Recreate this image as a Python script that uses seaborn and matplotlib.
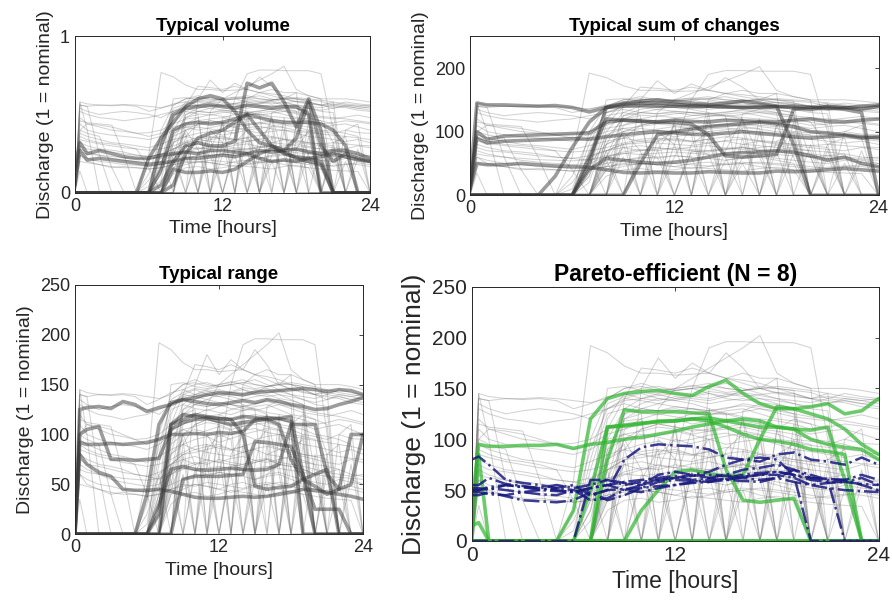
import numpy as np
import pandas as pd
import matplotlib
matplotlib.use("Agg")
import matplotlib.pyplot as plt
import seaborn as sns

# ----------------------------
# DATA (discharge, 1 = nominal)
# ----------------------------
hours = [0, 0.4, 1, 2, 3, 4, 5, 6, 7, 8, 9, 10, 11, 12, 13, 14, 15, 16, 17, 18, 19, 20, 21, 22, 23, 24]

# thin grey runs, non-zero during the night
bg_night = [
    [0, 140, 138, 140, 139, 140, 138, 130, 135, 142, 145, 140, 143, 145, 142, 140, 144, 146, 143, 140, 138, 136, 140, 138, 135, 137],
    [0, 145, 142, 140, 140, 141, 140, 138, 136, 140, 150, 152, 148, 150, 152, 155, 150, 148, 150, 146, 145, 140, 142, 140, 138, 140],
    [0, 130, 125, 120, 118, 115, 118, 120, 125, 130, 135, 130, 128, 132, 130, 128, 131, 133, 130, 126, 122, 120, 118, 121, 124, 120],
    [0, 120, 110, 105, 100, 98, 95, 96, 100, 110, 118, 120, 125, 122, 120, 124, 126, 122, 120, 118, 115, 110, 112, 115, 113, 110],
    [0, 110, 100, 95, 92, 90, 88, 85, 90, 100, 105, 108, 112, 110, 105, 108, 110, 112, 108, 105, 100, 98, 95, 100, 96, 95],
    [0, 95, 90, 85, 80, 78, 75, 72, 78, 85, 90, 95, 98, 92, 96, 100, 95, 98, 100, 95, 90, 88, 85, 82, 85, 80],
    [0, 80, 75, 70, 68, 65, 60, 58, 62, 70, 80, 82, 85, 88, 85, 82, 86, 88, 85, 80, 78, 75, 72, 70, 75, 72],
    [0, 70, 65, 60, 55, 52, 50, 48, 50, 60, 68, 72, 70, 75, 72, 70, 74, 76, 72, 70, 68, 65, 62, 60, 58, 60],
    [0, 60, 55, 50, 48, 45, 44, 42, 45, 50, 55, 58, 60, 62, 60, 58, 55, 60, 62, 58, 55, 52, 50, 55, 52, 50],
    [0, 50, 48, 45, 42, 40, 40, 38, 40, 45, 50, 48, 52, 50, 48, 46, 50, 52, 50, 48, 45, 42, 44, 46, 45, 42],
    [0, 60, 50, 45, 40, 42, 40, 38, 40, 45, 48, 50, 48, 45, 50, 52, 48, 50, 52, 50, 48, 45, 42, 45, 48, 45],
    [0, 75, 70, 68, 65, 62, 60, 58, 55, 60, 65, 70, 75, 72, 70, 68, 72, 75, 70, 68, 65, 60, 62, 65, 60, 58],
    [0, 100, 110, 108, 105, 100, 95, 90, 95, 105, 110, 115, 118, 120, 115, 118, 120, 118, 115, 112, 110, 105, 108, 110, 105, 100],
    [0, 135, 130, 125, 128, 130, 128, 125, 120, 130, 138, 140, 138, 142, 140, 138, 142, 145, 140, 138, 135, 132, 135, 138, 135, 132],
    [0, 145, 100, 0, 0, 0, 0, 0, 0, 60, 120, 130, 135, 132, 130, 128, 130, 135, 132, 130, 0, 0, 0, 0, 0, 0],
    [0, 140, 138, 60, 0, 0, 0, 0, 30, 110, 140, 145, 140, 138, 142, 145, 140, 138, 140, 135, 130, 60, 0, 0, 0, 0],
    [0, 100, 95, 90, 40, 0, 0, 0, 0, 80, 125, 130, 128, 130, 126, 124, 128, 130, 125, 120, 118, 115, 80, 0, 0, 0],
    [0, 90, 85, 80, 78, 75, 70, 40, 0, 0, 90, 110, 115, 112, 110, 108, 112, 115, 110, 108, 105, 100, 98, 95, 90, 0],
    [0, 35, 0, 0, 0, 0, 0, 0, 0, 0, 60, 0, 100, 80, 0, 120, 0, 50, 0, 110, 60, 0, 70, 0, 0, 0],
    [0, 115, 112, 110, 108, 60, 0, 0, 0, 90, 100, 105, 102, 98, 100, 104, 106, 102, 100, 98, 96, 94, 92, 90, 88, 85],
    [0, 85, 82, 78, 75, 72, 70, 68, 70, 75, 82, 88, 90, 86, 84, 88, 92, 90, 86, 84, 80, 78, 80, 78, 76, 75],
    [0, 65, 62, 60, 58, 56, 55, 54, 56, 62, 66, 64, 66, 68, 66, 64, 66, 68, 66, 64, 62, 60, 58, 57, 56, 55],
]

# thin grey runs that only start in the morning
bg_day = [
    [0, 0, 0, 0, 0, 0, 0, 0, 20, 100, 130, 140, 145, 148, 150, 145, 142, 148, 150, 145, 142, 140, 145, 142, 140, 138],
    [0, 0, 0, 0, 0, 0, 0, 0, 40, 120, 145, 150, 152, 148, 150, 152, 150, 148, 152, 150, 148, 146, 140, 145, 142, 140],
    [0, 0, 0, 0, 0, 0, 0, 30, 90, 130, 140, 138, 135, 140, 138, 135, 138, 140, 136, 134, 130, 0, 0, 0, 0, 0],
    [0, 0, 0, 0, 0, 0, 0, 0, 0, 60, 100, 110, 115, 112, 108, 110, 112, 108, 105, 0, 0, 0, 0, 0, 0, 0],
    [0, 0, 0, 0, 0, 0, 0, 0, 50, 80, 90, 85, 88, 90, 85, 88, 0, 80, 85, 82, 80, 78, 75, 0, 0, 0],
    [0, 0, 0, 0, 0, 0, 0, 20, 60, 70, 75, 70, 72, 0, 68, 70, 72, 75, 70, 68, 0, 0, 0, 0, 0, 0],
    [0, 0, 0, 0, 0, 0, 0, 0, 0, 40, 55, 60, 58, 62, 60, 0, 55, 58, 60, 55, 50, 0, 0, 0, 0, 0],
    [0, 0, 0, 0, 0, 0, 0, 0, 100, 140, 150, 155, 150, 148, 150, 152, 155, 150, 145, 140, 135, 130, 128, 0, 0, 0],
    [0, 0, 0, 0, 0, 0, 0, 0, 0, 0, 125, 135, 140, 138, 135, 130, 0, 128, 135, 130, 125, 0, 0, 0, 0, 0],
    [0, 0, 0, 0, 0, 0, 0, 0, 0, 90, 120, 125, 0, 120, 125, 128, 125, 120, 0, 110, 120, 115, 110, 0, 0, 0],
    [0, 0, 0, 0, 0, 0, 0, 0, 0, 70, 80, 85, 82, 80, 78, 82, 85, 80, 78, 75, 72, 70, 0, 0, 0, 0],
    [0, 0, 0, 0, 0, 0, 0, 0, 0, 40, 45, 50, 48, 45, 42, 45, 48, 50, 45, 42, 40, 0, 0, 0, 0, 0],
    [0, 0, 0, 0, 0, 0, 0, 0, 0, 70, 0, 60, 90, 0, 80, 100, 0, 90, 0, 70, 100, 0, 60, 0, 0, 0],
    [0, 0, 0, 0, 0, 0, 0, 0, 60, 0, 80, 0, 70, 110, 0, 90, 60, 0, 100, 0, 0, 80, 0, 50, 0, 0],
    [0, 0, 0, 0, 0, 0, 0, 0, 0, 50, 100, 70, 0, 60, 110, 0, 70, 120, 60, 0, 90, 0, 0, 0, 70, 0],
    [0, 0, 0, 0, 0, 0, 0, 10, 80, 135, 142, 146, 144, 140, 143, 147, 145, 142, 144, 146, 143, 140, 138, 136, 132, 130],
    [0, 0, 0, 0, 0, 0, 0, 0, 70, 125, 130, 126, 124, 128, 130, 126, 124, 127, 130, 128, 125, 122, 120, 118, 115, 112],
    [0, 0, 0, 0, 0, 0, 0, 0, 30, 95, 105, 100, 104, 108, 104, 100, 103, 106, 104, 100, 98, 95, 0, 0, 0, 0],
    [0, 0, 0, 0, 0, 0, 0, 0, 0, 45, 75, 78, 74, 72, 76, 78, 74, 72, 75, 78, 74, 70, 68, 65, 0, 0],
    [0, 0, 0, 0, 0, 0, 0, 0, 0, 30, 40, 42, 38, 40, 44, 42, 40, 38, 42, 44, 40, 38, 36, 35, 34, 0],
    [0, 0, 0, 0, 0, 0, 0, 0, 40, 150, 152, 148, 146, 150, 153, 150, 146, 148, 150, 152, 150, 148, 145, 0, 0, 0],
    [0, 0, 0, 0, 0, 0, 0, 0, 0, 80, 95, 0, 85, 100, 95, 0, 90, 105, 0, 85, 95, 0, 80, 90, 0, 0],
    [0, 0, 0, 0, 0, 0, 0, 0, 0, 0, 110, 120, 0, 115, 0, 130, 125, 0, 120, 0, 115, 0, 0, 100, 110, 0],
    [0, 0, 0, 0, 0, 0, 0, 0, 0, 55, 0, 65, 60, 0, 70, 65, 0, 60, 70, 0, 65, 60, 0, 0, 55, 50],
]

# the few runs that go above 150
bg_peaks = [
    [0, 0, 0, 0, 0, 0, 0, 60, 192, 185, 172, 165, 165, 163, 164, 165, 160, 155, 150, 150, 145, 140, 135, 140, 138, 135],
    [0, 0, 0, 0, 0, 0, 0, 0, 0, 0, 0, 0, 0, 80, 150, 190, 196, 196, 195, 195, 195, 190, 100, 0, 0, 0],
    [0, 0, 0, 0, 0, 0, 0, 0, 0, 0, 0, 0, 130, 150, 160, 170, 180, 190, 202, 165, 155, 150, 0, 0, 0, 0],
    [0, 0, 0, 0, 0, 0, 0, 0, 0, 0, 140, 170, 168, 165, 170, 165, 160, 165, 160, 160, 155, 150, 150, 150, 148, 145],
    [0, 0, 0, 0, 0, 0, 0, 0, 0, 0, 0, 150, 180, 160, 175, 165, 185, 170, 150, 160, 0, 0, 0, 0, 0, 0],
    [0, 0, 0, 0, 0, 0, 0, 0, 0, 0, 0, 0, 0, 0, 0, 150, 160, 158, 155, 150, 148, 0, 0, 0, 0, 0],
]

# "Typical volume" runs (axis shown 0..1)
volume_runs = [
    [0.15, 0.32, 0.25, 0.27, 0.25, 0.23, 0.22, 0.22, 0.24, 0.25, 0.26, 0.25, 0.27, 0.27, 0.26, 0.25, 0.27, 0.26, 0.27, 0.28, 0.26, 0.25, 0.27, 0.27, 0.25, 0.22],
    [0.05, 0.27, 0.21, 0.22, 0.21, 0.20, 0.19, 0.18, 0.19, 0.20, 0.22, 0.22, 0.23, 0.24, 0.23, 0.25, 0.22, 0.20, 0.21, 0.20, 0.22, 0.23, 0.25, 0.23, 0.21, 0.20],
    [0, 0, 0, 0, 0, 0, 0, 0.22, 0.35, 0.45, 0.55, 0.60, 0.62, 0.60, 0.52, 0.40, 0.32, 0.30, 0.25, 0.23, 0.22, 0.20, 0, 0, 0, 0],
    [0, 0, 0, 0, 0, 0, 0, 0, 0.05, 0.20, 0.30, 0.32, 0.30, 0.30, 0.33, 0.70, 0.67, 0.70, 0.58, 0.42, 0.60, 0.40, 0, 0, 0, 0],
    [0, 0, 0, 0, 0, 0, 0, 0, 0.15, 0.40, 0.44, 0.45, 0.44, 0.45, 0.47, 0.50, 0.48, 0.46, 0.45, 0.45, 0.45, 0.44, 0.40, 0.30, 0, 0],
    [0, 0, 0, 0, 0, 0, 0, 0, 0.30, 0.50, 0.54, 0.55, 0.56, 0.55, 0.54, 0.56, 0.55, 0.54, 0.55, 0.55, 0.50, 0, 0, 0, 0, 0],
    [0, 0, 0, 0, 0, 0, 0, 0, 0, 0.05, 0.25, 0.35, 0.38, 0.40, 0.45, 0.50, 0.40, 0.30, 0.27, 0.35, 0.58, 0.30, 0.20, 0.25, 0.22, 0.20],
    [0, 0, 0, 0, 0, 0, 0, 0, 0, 0.15, 0.13, 0.13, 0.14, 0.13, 0.15, 0.20, 0.25, 0.28, 0.26, 0.22, 0.20, 0.18, 0, 0, 0, 0],
]

# "Typical sum of changes" runs
sum_change_runs = [
    [20, 145, 142, 142, 141, 140, 141, 138, 131, 138, 143, 145, 145, 143, 141, 140, 139, 138, 138, 139, 140, 138, 136, 137, 140, 142],
    [20, 100, 88, 93, 94, 95, 96, 97, 98, 115, 118, 117, 115, 118, 116, 115, 118, 117, 116, 115, 118, 120, 116, 115, 118, 120],
    [15, 90, 82, 85, 86, 87, 88, 89, 88, 92, 95, 98, 100, 98, 96, 95, 98, 100, 97, 95, 92, 90, 92, 94, 90, 92],
    [10, 50, 48, 48, 50, 48, 46, 45, 44, 40, 36, 35, 36, 35, 35, 37, 36, 35, 35, 38, 37, 38, 40, 42, 40, 38],
    [0, 0, 0, 0, 0, 0, 30, 75, 115, 138, 145, 148, 150, 147, 145, 142, 145, 148, 145, 140, 138, 135, 140, 138, 135, 140],
    [0, 0, 0, 0, 0, 0, 0, 0, 60, 120, 118, 116, 115, 115, 112, 95, 62, 60, 62, 64, 135, 138, 138, 135, 130, 0],
    [0, 0, 0, 0, 0, 0, 0, 0, 0, 0, 0, 50, 95, 100, 104, 108, 110, 112, 115, 112, 108, 100, 98, 95, 92, 90],
    [0, 0, 0, 0, 0, 0, 0, 0, 50, 138, 140, 141, 140, 140, 139, 140, 139, 138, 139, 140, 80, 0, 0, 0, 0, 0],
    [0, 0, 0, 0, 0, 0, 0, 0, 40, 58, 55, 52, 50, 52, 55, 60, 65, 67, 68, 70, 68, 62, 55, 60, 50, 45],
]

# "Typical range" runs
range_runs = [
    [0, 0, 0, 0, 0, 0, 0, 40, 110, 132, 135, 137, 140, 142, 141, 140, 142, 143, 144, 145, 146, 145, 143, 145, 144, 140],
    [0, 125, 127, 128, 126, 133, 130, 123, 127, 130, 135, 133, 131, 130, 132, 134, 132, 135, 133, 130, 128, 125, 126, 130, 133, 137],
    [0, 92, 90, 90, 91, 90, 91, 92, 95, 100, 100, 101, 100, 102, 101, 103, 115, 117, 116, 118, 60, 0, 0, 0, 0, 0],
    [0, 100, 105, 108, 75, 75, 74, 75, 76, 105, 112, 115, 116, 113, 110, 112, 114, 115, 110, 75, 55, 48, 40, 45, 100, 100],
    [0, 80, 70, 62, 58, 45, 44, 44, 45, 43, 40, 37, 36, 36, 37, 38, 37, 38, 40, 42, 45, 44, 42, 40, 38, 35],
    [0, 0, 0, 0, 0, 0, 0, 0, 20, 110, 120, 118, 117, 116, 115, 100, 48, 45, 47, 48, 55, 60, 65, 0, 0, 0],
    [0, 0, 0, 0, 0, 0, 0, 0, 0, 0, 55, 58, 58, 58, 59, 60, 93, 92, 90, 88, 60, 25, 25, 25, 0, 0],
    [0, 0, 0, 0, 0, 0, 0, 0, 0, 110, 115, 120, 118, 116, 115, 118, 117, 115, 116, 113, 0, 0, 0, 0, 0, 0],
    [0, 0, 0, 0, 0, 0, 0, 0, 30, 65, 68, 65, 64, 65, 66, 65, 64, 65, 70, 110, 110, 110, 60, 45, 50, 100],
]

# Pareto-efficient: green (solid) and blue (dash-dot) runs
pareto_green = [
    [35, 95, 93, 93, 94, 94, 95, 91, 95, 97, 100, 102, 105, 108, 112, 115, 118, 120, 118, 112, 110, 100, 95, 92, 90, 80],
    [15, 18, 0, 0, 0, 0, 0, 0, 0, 0, 0, 0, 0, 0, 0, 0, 0, 0, 0, 0, 0, 0, 0, 0, 0, 0],
    [0, 85, 0, 0, 0, 0, 0, 0, 0, 0, 0, 0, 0, 0, 0, 0, 0, 0, 0, 0, 0, 0, 0, 0, 0, 0],
    [0, 0, 0, 0, 0, 0, 0, 30, 120, 140, 145, 147, 148, 145, 143, 152, 158, 145, 135, 130, 130, 132, 135, 125, 128, 140],
    [0, 0, 0, 0, 0, 0, 0, 0, 0, 80, 129, 127, 127, 127, 126, 125, 70, 40, 38, 40, 42, 0, 0, 0, 0, 0],
    [0, 0, 0, 0, 0, 0, 0, 0, 0, 0, 0, 30, 50, 68, 70, 66, 64, 65, 100, 132, 130, 125, 120, 110, 95, 85],
    [0, 0, 0, 0, 0, 0, 0, 0, 50, 112, 113, 115, 118, 118, 120, 121, 118, 115, 112, 112, 110, 109, 112, 60, 0, 0],
    [0, 0, 0, 0, 0, 0, 0, 0, 0, 112, 114, 116, 117, 118, 120, 118, 112, 105, 100, 98, 95, 90, 88, 85, 0, 0],
]
pareto_blue = [
    [80, 83, 75, 60, 57, 55, 52, 50, 45, 50, 80, 92, 95, 94, 93, 90, 82, 80, 78, 85, 87, 80, 78, 75, 82, 75],
    [0, 0, 0, 0, 0, 0, 0, 0, 60, 60, 57, 55, 60, 62, 64, 65, 64, 63, 65, 65, 62, 55, 57, 58, 56, 55],
    [50, 50, 52, 50, 48, 46, 45, 50, 40, 42, 50, 55, 65, 68, 65, 62, 60, 63, 65, 68, 65, 62, 61, 60, 55, 50],
    [45, 45, 48, 44, 40, 39, 38, 40, 48, 40, 45, 52, 58, 60, 59, 58, 62, 65, 67, 68, 65, 60, 58, 58, 62, 55],
    [55, 55, 62, 56, 54, 52, 55, 52, 55, 60, 55, 58, 60, 62, 65, 68, 75, 80, 82, 80, 65, 0, 0, 0, 0, 0],
    [52, 52, 50, 55, 53, 50, 49, 48, 52, 55, 58, 60, 62, 64, 60, 62, 65, 70, 72, 75, 70, 65, 60, 0, 0, 0],
    [48, 48, 46, 45, 48, 50, 52, 55, 45, 50, 51, 52, 54, 55, 58, 60, 61, 62, 60, 62, 70, 62, 60, 60, 65, 60],
    [50, 50, 53, 55, 53, 52, 50, 48, 52, 55, 50, 48, 52, 55, 57, 58, 60, 59, 58, 62, 58, 55, 52, 50, 49, 48],
]

VOLUME_FULL = 250.0  # volume panel shows discharge / 250


def to_long(runs, scale=1.0):
    rows = []
    for k, vals in enumerate(runs):
        for t, v in zip(hours, vals):
            rows.append((k, t, v * scale))
    return pd.DataFrame(rows, columns=["run", "hour", "q"])


def draw_background(ax, scale=1.0):
    bg = to_long(bg_night + bg_day + bg_peaks, scale)
    sns.lineplot(data=bg, x="hour", y="q", units="run", estimator=None,
                 color="#6e6e6e", lw=0.75, alpha=0.3, ax=ax, legend=False)


def draw_runs(ax, runs, color, lw, alpha, ls="-", scale=1.0):
    df = to_long(runs, scale)
    sns.lineplot(data=df, x="hour", y="q", units="run", estimator=None,
                 color=color, lw=lw, alpha=alpha, linestyle=ls, ax=ax, legend=False)


def style_axes(ax, title, yticks, ylim, fs_tick, fs_label, fs_title, fs_ylabel=None):
    ax.set_xlim(0, 24)
    ax.set_ylim(*ylim)
    ax.set_xticks([0, 12, 24])
    ax.set_yticks(yticks)
    ax.tick_params(direction="in", top=True, right=True, length=3,
                   labelsize=fs_tick, colors="#262626", width=0.6)
    ax.set_xlabel("Time [hours]", fontsize=fs_label, color="#262626")
    ax.set_ylabel("Discharge (1 = nominal)", fontsize=fs_ylabel or fs_label, color="#262626")
    ax.set_title(title, fontsize=fs_title, fontweight="bold", color="black", pad=4)
    for sp in ax.spines.values():
        sp.set_visible(True)
        sp.set_color("#262626")
        sp.set_linewidth(0.7)


# ----------------------------
# FIGURE
# ----------------------------
sns.set_theme(style="white")
plt.rcParams["font.family"] = ["Liberation Sans", "DejaVu Sans"]

fig = plt.figure(figsize=(8.92, 6.14), dpi=100)
ax1 = fig.add_axes([0.084, 0.686, 0.331, 0.255])
ax2 = fig.add_axes([0.527, 0.682, 0.458, 0.259])
ax3 = fig.add_axes([0.084, 0.130, 0.323, 0.406])
ax4 = fig.add_axes([0.529, 0.119, 0.456, 0.414])

dark = "#3a3a3a"

# Typical volume
draw_background(ax1, 1 / VOLUME_FULL)
draw_runs(ax1, volume_runs, dark, 2.6, 0.5)
style_axes(ax1, "Typical volume", [0, 1], (0, 1), 13, 14, 13.5)

# Typical sum of changes
draw_background(ax2)
draw_runs(ax2, sum_change_runs, dark, 2.6, 0.5)
style_axes(ax2, "Typical sum of changes", [0, 100, 200], (0, 250), 13, 14, 13.5)

# Typical range
draw_background(ax3)
draw_runs(ax3, range_runs, dark, 2.6, 0.5)
style_axes(ax3, "Typical range", [0, 50, 100, 150, 200, 250], (0, 250), 13, 14, 13.5)

# Pareto-efficient
draw_background(ax4)
draw_runs(ax4, pareto_green, "#2fb52f", 2.6, 0.7)
draw_runs(ax4, pareto_blue, "#1a1a80", 1.8, 0.85, ls="-.")
style_axes(ax4, "Pareto-efficient (N = 8)", [0, 50, 100, 150, 200, 250], (0, 250), 15, 16.5, 16.5, fs_ylabel=19)

fig.savefig("out.png", dpi=100)
